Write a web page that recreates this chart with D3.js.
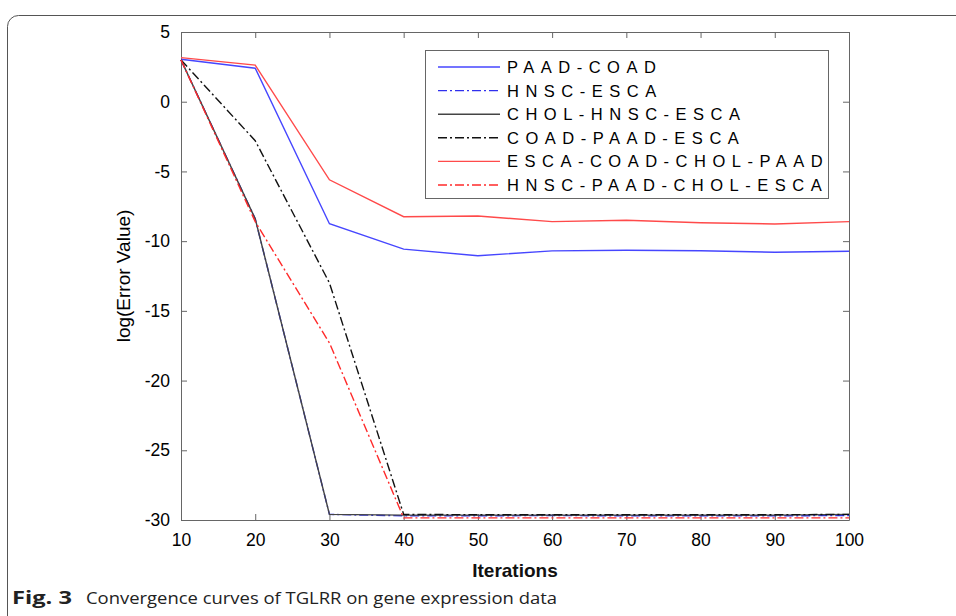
<!DOCTYPE html>
<meta charset="utf-8">
<style>
body { margin: 0; background: #fff; }
.tick text { font-family: Arial, "Liberation Sans", sans-serif; font-size: 17.5px; fill: #000; }
.axis path, .axis line { stroke: #666; }
.legend text { font-family: Arial, "Liberation Sans", sans-serif; font-size: 16.5px; letter-spacing: 6.5px; fill: #000; }
</style>
<body>
<svg width="956" height="616"></svg>
<script src="https://cdn.jsdelivr.net/npm/d3@7"></script>
<script>

var iterations = [10, 20, 30, 40, 50, 60, 70, 80, 90, 100];

var paadCoad         = [3.05, 2.4, -8.75, -10.57, -11.05, -10.7, -10.65, -10.69, -10.8, -10.73];
var hnscEsca         = [3.0, -8.4, -29.6, -29.7, -29.7, -29.68, -29.7, -29.7, -29.7, -29.68];
var cholHnscEsca     = [3.0, -8.4, -29.6, -29.65, -29.65, -29.65, -29.65, -29.65, -29.65, -29.6];
var coadPaadEsca     = [3.0, -2.8, -13.0, -29.6, -29.62, -29.62, -29.62, -29.62, -29.62, -29.6];
var escaCoadCholPaad = [3.16, 2.63, -5.6, -8.25, -8.2, -8.6, -8.5, -8.68, -8.77, -8.6];
var hnscPaadCholEsca = [3.0, -8.6, -17.3, -29.85, -29.85, -29.85, -29.85, -29.85, -29.85, -29.85];

var seriesNames = ["PAAD-COAD", "HNSC-ESCA", "CHOL-HNSC-ESCA", "COAD-PAAD-ESCA",
                   "ESCA-COAD-CHOL-PAAD", "HNSC-PAAD-CHOL-ESCA"];
var seriesValues = [paadCoad, hnscEsca, cholHnscEsca, coadPaadEsca, escaCoadCholPaad, hnscPaadCholEsca];
var seriesColors = ["#4646ff", "#3030ee", "#444", "#111", "#ff4a4a", "#ff2a2a"];
var seriesDashed = [false, true, false, true, false, true];

var xTicks = [10, 20, 30, 40, 50, 60, 70, 80, 90, 100];
var yTicks = [5, 0, -5, -10, -15, -20, -25, -30];

var svg = d3.select("svg");

// outer figure frame (rounded)
svg.append("rect")
    .attr("x", 7.5).attr("y", 15.5)
    .attr("width", 1000).attr("height", 640)
    .attr("rx", 11)
    .attr("fill", "none")
    .attr("stroke", "#555")
    .attr("stroke-width", 1);

// plot box ("top" is taken by window.top, so use other names)
var plotLeft = 181, plotRight = 849, plotTop = 32, plotBottom = 520;

var x = d3.scaleLinear().domain([10, 100]).range([plotLeft, plotRight]);
var y = d3.scaleLinear().domain([-30, 5]).range([plotBottom, plotTop]);

// plain hyphen minus like matlab
var plain = function(d) { return String(d); };

// axes with inward ticks, MATLAB box style
svg.append("g").attr("class", "axis")
    .attr("transform", "translate(0," + plotBottom + ")")
    .call(d3.axisBottom(x).tickValues(xTicks).tickFormat(plain).tickSizeInner(-6).tickSizeOuter(0).tickPadding(14));
svg.append("g").attr("class", "axis")
    .attr("transform", "translate(0," + plotTop + ")")
    .call(d3.axisTop(x).tickValues(xTicks).tickSizeInner(-6).tickSizeOuter(0).tickFormat(""));
svg.append("g").attr("class", "axis")
    .attr("transform", "translate(" + plotLeft + ",0)")
    .call(d3.axisLeft(y).tickValues(yTicks).tickFormat(plain).tickSizeInner(-6).tickSizeOuter(0).tickPadding(11));
svg.append("g").attr("class", "axis")
    .attr("transform", "translate(" + plotRight + ",0)")
    .call(d3.axisRight(y).tickValues(yTicks).tickSizeInner(-6).tickSizeOuter(0).tickFormat(""));

svg.selectAll(".axis .domain").attr("stroke", "#666");

// lines
var line = d3.line()
    .x(function(d, i) { return x(iterations[i]); })
    .y(function(d) { return y(d); });

svg.append("g").selectAll("path")
    .data(seriesValues)
    .enter().append("path")
      .attr("d", line)
      .attr("fill", "none")
      .attr("stroke", function(d, i) { return seriesColors[i]; })
      .attr("stroke-width", 1.4)
      .attr("stroke-dasharray", function(d, i) { return seriesDashed[i] ? "9,3,2,3" : null; });

// legend
var legend = svg.append("g").attr("class", "legend");
legend.append("rect")
    .attr("x", 425.5).attr("y", 50.5)
    .attr("width", 403).attr("height", 148)
    .attr("fill", "#fff")
    .attr("stroke", "#666");

var row = legend.selectAll("g.row")
    .data(seriesNames)
    .enter().append("g")
      .attr("class", "row")
      .attr("transform", function(d, i) { return "translate(0," + (67 + i * 23.6) + ")"; });

row.append("line")
    .attr("x1", 438).attr("x2", 500)
    .attr("stroke", function(d, i) { return seriesColors[i]; })
    .attr("stroke-width", 1.4)
    .attr("stroke-dasharray", function(d, i) { return seriesDashed[i] ? "9,3,2,3" : null; });

row.append("text")
    .attr("x", 507)
    .attr("dy", "0.36em")
    .text(function(d) { return d; });

// axis titles
svg.append("text")
    .attr("transform", "translate(130," + ((plotTop + plotBottom) / 2) + ") rotate(-90)")
    .attr("text-anchor", "middle")
    .style("font-family", "Arial, 'Liberation Sans', sans-serif")
    .style("font-size", "19px")
    .attr("fill", "#000")
    .text("log(Error Value)");

svg.append("text")
    .attr("x", (plotLeft + plotRight) / 2)
    .attr("y", 577)
    .attr("text-anchor", "middle")
    .style("font-family", "Arial, 'Liberation Sans', sans-serif")
    .style("font-size", "19px")
    .style("font-weight", "bold")
    .attr("fill", "#111")
    .text("Iterations");

// caption
svg.append("text")
    .attr("x", 12).attr("y", 604)
    .style("font-family", "'Open Sans', sans-serif")
    .style("font-size", "17px")
    .style("font-weight", "bold")
    .attr("textLength", 60)
    .attr("lengthAdjust", "spacingAndGlyphs")
    .attr("fill", "#222")
    .text("Fig. 3");

svg.append("text")
    .attr("x", 86).attr("y", 604)
    .style("font-family", "'Open Sans', sans-serif")
    .style("font-size", "17px")
    .attr("textLength", 471)
    .attr("lengthAdjust", "spacingAndGlyphs")
    .attr("fill", "#222")
    .text("Convergence curves of TGLRR on gene expression data");

</script>
</body>
